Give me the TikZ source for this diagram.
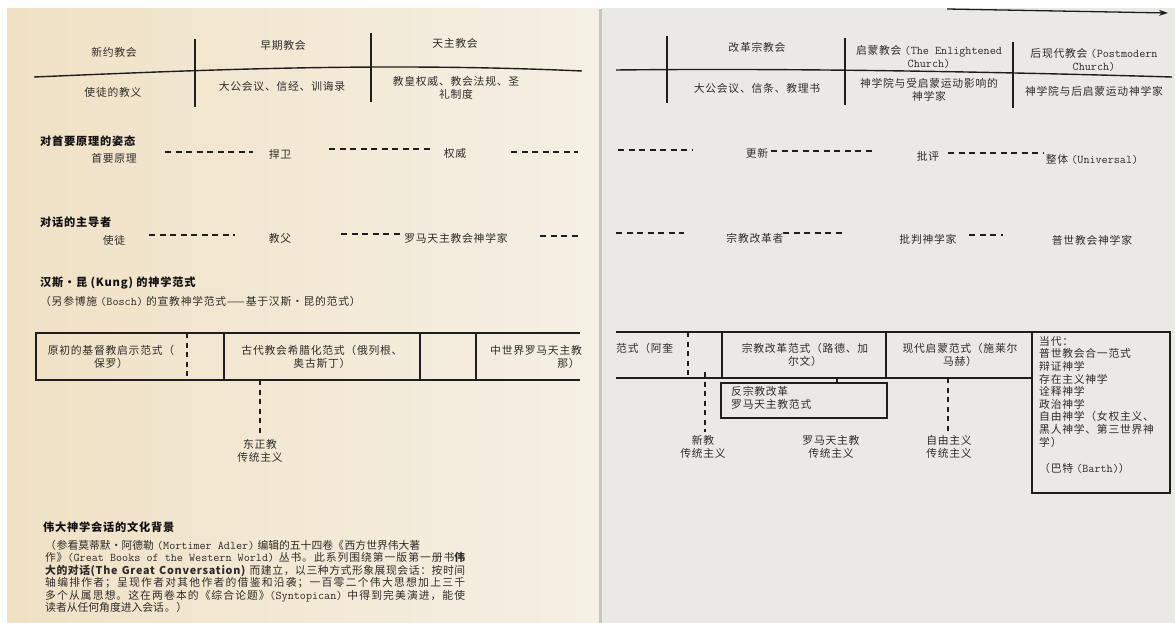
\documentclass[tikz,border=0pt]{standalone}
\usepackage{fontspec}
\setmainfont{Noto Sans CJK SC}[LetterSpace=7]
\newfontfamily\hdf{Noto Sans CJK SC}[LetterSpace=7]
\usetikzlibrary{arrows.meta}
\definecolor{txt}{RGB}{46,44,41}
\definecolor{hdc}{RGB}{18,18,18}
\definecolor{ink}{RGB}{30,30,30}
\definecolor{pageLe}{RGB}{240,225,196}
\definecolor{pageLr}{RGB}{245,240,229}
\definecolor{pageR}{RGB}{234,233,229}
\definecolor{gutter}{RGB}{200,198,192}
\newcommand\en[1]{{\ttfamily\fontsize{11.8}{12.6}\selectfont #1}}
\begin{document}
\begin{tikzpicture}[x=1pt,y=-1pt,
  lbl/.style={inner sep=0pt, text=txt, font=\fontsize{10.8}{12.6}\selectfont, align=center},
  hd/.style={inner sep=0pt, text=hdc, font=\hdf\bfseries\fontsize{11.2}{13}\selectfont, anchor=west},
  ln/.style={draw=ink, line width=1.4pt},
  dsh/.style={draw=ink, line width=1.8pt, dash pattern=on 6pt off 4.5pt},
  vdsh/.style={draw=ink, line width=1.6pt, dash pattern=on 5pt off 4.5pt}]
\useasboundingbox (0,0) rectangle (1175,623);
% pages
\fill[white] (0,0) rectangle (1175,623);
\shade[left color=pageLe, right color=pageLr] (7,9) rectangle (600,623);
\fill[pageR] (601,8) rectangle (1175,623);
\fill[gutter] (599,9) rectangle (602,623);

% ---------- top arrow ----------
\coordinate (ar0) at (947,9);
\coordinate (ar1) at (1168,13);
\draw[ink, line width=1.3pt, -{Stealth[length=9pt,width=6pt]}] (ar0) -- (ar1);

% ---------- top timeline ----------
\coordinate (L0) at (34,77);
\coordinate (L1) at (582,71);
\draw[ln] (L0) .. controls (200,70) and (380,62) .. (L1);
\coordinate (R0) at (616,70);
\coordinate (R1) at (1172,77);
\draw[ln] (R0) .. controls (800,68) and (1000,72) .. (R1);
\foreach \n/\x/\ya/\yb in {v1/195/39/107, v2/371/33/102, v3/667/36/103, v4/845/38/105, v5/1013/42/108}{
  \coordinate (\n a) at (\x,\ya);
  \coordinate (\n b) at (\x,\yb);
  \draw[ln] (\n a) -- (\n b);
}
\node[lbl] (t1) at (114,52) {新约教会};
\node[lbl] (t2) at (283,45) {早期教会};
\node[lbl] (t3) at (455,43) {天主教会};
\node[lbl] (t4) at (757,47) {改革宗教会};
\node[lbl] (t5) at (929,57) {启蒙教会 \en{(The Enlightened}\\\en{Church)}};
\node[lbl] (t6) at (1094,60) {后现代教会 \en{(Postmodern}\\\en{Church)}};
\node[lbl] (b1) at (113,92) {使徒的教义};
\node[lbl] (b2) at (282,86) {大公会议、信经、训诲录};
\node[lbl] (b3) at (456,88) {教皇权威、教会法规、圣\\礼制度};
\node[lbl] (b4) at (757,88) {大公会议、信条、教理书};
\node[lbl] (b5) at (929,90) {神学院与受启蒙运动影响的\\神学家};
\node[lbl] (b6) at (1094,91) {神学院与后启蒙运动神学家};

% ---------- first principles ----------
\node[hd] (h1) at (40,141) {对首要原理的姿态};
\node[lbl] (r1) at (114,158) {首要原理};
\node[lbl] (r2) at (280,154) {捍卫};
\node[lbl] (r3) at (455,153) {权威};
\node[lbl] (r4) at (757,153) {更新};
\node[lbl] (r5) at (928,156) {批评};
\node[lbl] (r6) at (1092,159) {整体 \en{(Universal)}};
\foreach \n/\xa/\xb/\y in {ra/165/253/152, rb/329/432/149, rc/511/578/152, rd/618/692/150, re/771/875/151, rf/948/1044/153}{
  \coordinate (\n0) at (\xa,\y);
  \coordinate (\n1) at (\xb,\y);
  \draw[dsh] (\n0) -- (\n1);
}

% ---------- leaders of the conversation ----------
\node[hd] (h2) at (40,222) {对话的主导者};
\node[lbl] (s1) at (114,240) {使徒};
\node[lbl] (s2) at (280,238) {教父};
\node[lbl] (s3) at (456,238) {罗马天主教会神学家};
\node[lbl] (s4) at (755,238) {宗教改革者};
\node[lbl] (s5) at (928,239) {批判神学家};
\node[lbl] (s6) at (1092,240) {普世教会神学家};
\foreach \n/\xa/\xb/\y in {sa/149/235/235, sb/341/400/234, sc/540/580/236, sd/616/684/233, se/783/842/233, sf/969/1003/235}{
  \coordinate (\n0) at (\xa,\y);
  \coordinate (\n1) at (\xb,\y);
  \draw[dsh] (\n0) -- (\n1);
}

% ---------- Kung paradigms ----------
\node[hd] (h3) at (40,283) {汉斯·昆 (Kung) 的神学范式};
\node[lbl, anchor=west] (h4) at (40,301) {（另参博施 \en{(Bosch)} 的宣教神学范式——基于汉斯·昆的范式）};

% left page boxes
\coordinate (bl0) at (36,333);  \coordinate (bl1) at (580,333);
\coordinate (bl2) at (36,380);  \coordinate (bl3) at (580,380);
\draw[ln] (bl1) -- (bl0) -- (bl2) -- (bl3);
\foreach \n/\x in {c1/224, c2/420, c3/476}{
  \coordinate (\n a) at (\x,333); \coordinate (\n b) at (\x,380);
  \draw[ln] (\n a) -- (\n b);
}
\coordinate (c0a) at (187,333); \coordinate (c0b) at (187,380);
\draw[vdsh] (c0a) -- (c0b);
\node[lbl] (p1) at (111,357) {原初的基督教启示范式（\\保罗）};
\node[lbl] (p2) at (322,357) {古代教会希腊化范式（俄列根、\\奥古斯丁）};
\begin{scope}
  \clip (480,336) rectangle (582,377);
  \node[lbl, anchor=west] (p3) at (490,350) {中世界罗马天主教};
\end{scope}
\node[lbl, anchor=east] (p3b) at (580,363) {那）};
\coordinate (e0) at (260,380); \coordinate (e1) at (260,435);
\draw[vdsh] (e0) -- (e1);
\node[lbl] (o1) at (260,451) {东正教\\传统主义};

% right page boxes
\coordinate (br0) at (616,332); \coordinate (br1) at (1032,332);
\coordinate (br2) at (616,378); \coordinate (br3) at (1032,378);
\draw[ln] (br0) -- (br1);
\draw[ln] (br2) -- (br3);
\coordinate (dk0) at (1032,332); \coordinate (dk1) at (1170,493);
\draw[ln] (dk0) rectangle (dk1);
\foreach \n/\x in {c4/722, c5/886}{
  \coordinate (\n a) at (\x,332); \coordinate (\n b) at (\x,378);
  \draw[ln] (\n a) -- (\n b);
}
\coordinate (c6a) at (688,332); \coordinate (c6b) at (688,378);
\draw[vdsh] (c6a) -- (c6b);
\node[lbl, anchor=west] (q1) at (616,348) {范式（阿奎};
\node[lbl] (q2) at (805,355) {宗教改革范式（路德、加\\尔文）};
\node[lbl] (q3) at (960,355) {现代启蒙范式（施莱尔\\马赫）};
\node[lbl, anchor=north west, align=left] (dk) at (1039,336)
  {\fontsize{10.8}{13.4}\selectfont 当代：\\普世教会合一范式\\辩证神学\\存在主义神学\\诠释神学\\政治神学\\自由神学（女权主义、\\黑人神学、第三世界神\\学）\\[13.4pt]（巴特 \en{(Barth)}）};

% counter-reformation box
\coordinate (cr0) at (721,383); \coordinate (cr1) at (887,418);
\draw[ln] (cr0) rectangle (cr1);
\node[lbl, anchor=north west, align=left] (cr) at (731,386) {反宗教改革\\罗马天主教范式};
\coordinate (tk0) at (837,378); \coordinate (tk1) at (837,383);
\draw[ln] (tk0) -- (tk1);

% traditionalisms
\coordinate (f0) at (705,372); \coordinate (f1) at (705,432);
\draw[vdsh] (f0) -- (f1);
\coordinate (g0) at (948,378); \coordinate (g1) at (948,432);
\draw[vdsh] (g0) -- (g1);
\node[lbl] (n1) at (703,447) {新教\\传统主义};
\node[lbl] (n2) at (831,447) {罗马天主教\\传统主义};
\node[lbl] (n3) at (949,447) {自由主义\\传统主义};

% ---------- cultural background ----------
\node[hd] (h5) at (43,527) {伟大神学会话的文化背景};
\node[inner sep=0pt, text=txt, anchor=north west] (para) at (45,540)
  {\parbox{420pt}{\fontsize{10.8}{12.5}\selectfont\parindent=0pt
   \XeTeXlinebreaklocale "zh"\XeTeXlinebreakskip=0pt plus 1pt\relax
   （参看莫蒂默·阿德勒 \en{(Mortimer Adler)} 编辑的五十四卷《西方世界伟大著\\
   作》\en{(Great Books of the Western World)} 丛书。此系列围绕第一版第一册书{\bfseries 伟}\linebreak
   {\bfseries 大的对话(The Great Conversation)} 而建立，以三种方式形象展现会话：按时间\linebreak
   轴编排作者；呈现作者对其他作者的借鉴和沿袭；一百零二个伟大思想加上三千\linebreak
   多个从属思想。这在两卷本的《综合论题》\en{(Syntopican)} 中得到完美演进，能使\linebreak
   读者从任何角度进入会话。）}};
\end{tikzpicture}
\end{document}
